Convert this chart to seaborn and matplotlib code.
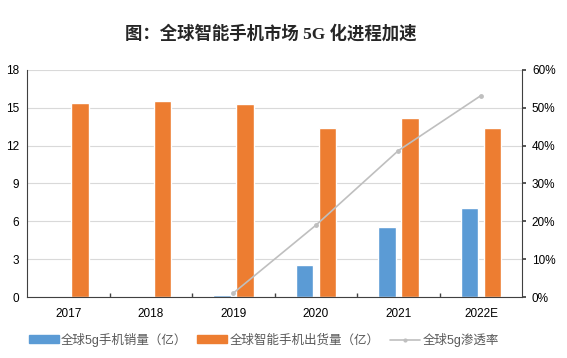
import numpy as np
import pandas as pd
import seaborn as sns
import matplotlib.pyplot as plt
from matplotlib.patches import Patch
from matplotlib.lines import Line2D

years = ['2017', '2018', '2019', '2020', '2021', '2022E']
sales_5g = [0.0, 0.0, 0.15, 2.54, 5.58, 7.09]
smartphone_shipments = [15.4, 15.55, 15.3, 13.4, 14.2, 13.4]
penetration = [np.nan, np.nan, 0.011, 0.19, 0.387, 0.532]

label_5g = '全球5g手机销量（亿）'
label_ship = '全球智能手机出货量（亿）'
label_pen = '全球5g渗透率'

sns.set_theme(style='white')
plt.rcParams['font.family'] = ['Liberation Sans', 'Noto Sans CJK SC']

df = pd.DataFrame({
    'year': years * 2,
    'value': sales_5g + smartphone_shipments,
    'series': [label_5g] * 6 + [label_ship] * 6,
})

blue, orange, grey = '#5b9bd5', '#ed7d31', '#bfbfbf'

fig, ax = plt.subplots(figsize=(5.67, 3.58), dpi=100)
fig.subplots_adjust(left=0.048, right=0.921, top=0.805, bottom=0.17)

sns.barplot(data=df, x='year', y='value', hue='series', ax=ax, saturation=1,
            palette=[blue, orange], width=0.56, gap=0.23, legend=False)
ax.set_ylim(0, 18)
ax.set_yticks(range(0, 19, 3))
ax.set_xlim(-0.5, 5.5)
ax.set_xticks(np.arange(0.5, 5, 1), minor=True)
ax.set_xlabel('')
ax.set_ylabel('')
ax.yaxis.grid(True, color='#d9d9d9', linewidth=0.8)
ax.set_axisbelow(True)
ax.tick_params(axis='both', labelsize=8.5, colors='#000000', length=0)
ax.tick_params(axis='x', which='minor', direction='in', length=3, color='#404040', bottom=True)
ax.tick_params(axis='x', pad=8)
ax.tick_params(axis='y', pad=6)
for s in ['top', 'right']:
    ax.spines[s].set_visible(False)
for s in ['left', 'bottom']:
    ax.spines[s].set_color('#404040')
    ax.spines[s].set_linewidth(0.8)

ax2 = ax.twinx()
sns.lineplot(x=np.arange(len(years)), y=penetration, ax=ax2, color=grey,
             marker='o', markersize=3.5, markeredgewidth=0, linewidth=1.2)
ax2.set_ylim(0, 0.6)
ax2.set_yticks(np.arange(0, 0.61, 0.1))
ax2.set_yticklabels([f'{int(round(v * 100))}%' for v in np.arange(0, 0.61, 0.1)])
ax2.tick_params(axis='y', labelsize=8.5, colors='#000000', length=3, pad=4)
ax2.tick_params(axis='y', color='#404040')
for s in ['top', 'left', 'bottom']:
    ax2.spines[s].set_visible(False)
ax2.spines['right'].set_color('#404040')
ax2.spines['right'].set_linewidth(0.8)
ax2.set_xlim(-0.5, 5.5)

fig.suptitle('图：全球智能手机市场 5G 化进程加速', x=0.478, y=0.93, fontsize=12.5,
             fontweight='bold', family=['Liberation Serif', 'Noto Sans CJK SC'])

handles = [Patch(color=blue), Patch(color=orange),
           Line2D([], [], color=grey, marker='o', markersize=3, markeredgewidth=0, linewidth=1.2)]
fig.legend(handles, [label_5g, label_ship, label_pen], loc='lower center',
           bbox_to_anchor=(0.465, 0.0), ncol=3, frameon=False, fontsize=9,
           handlelength=2.4, handleheight=0.6, handletextpad=0.2, columnspacing=0.8,
           labelcolor='#595959')

fig.savefig('out.png', dpi=100)
